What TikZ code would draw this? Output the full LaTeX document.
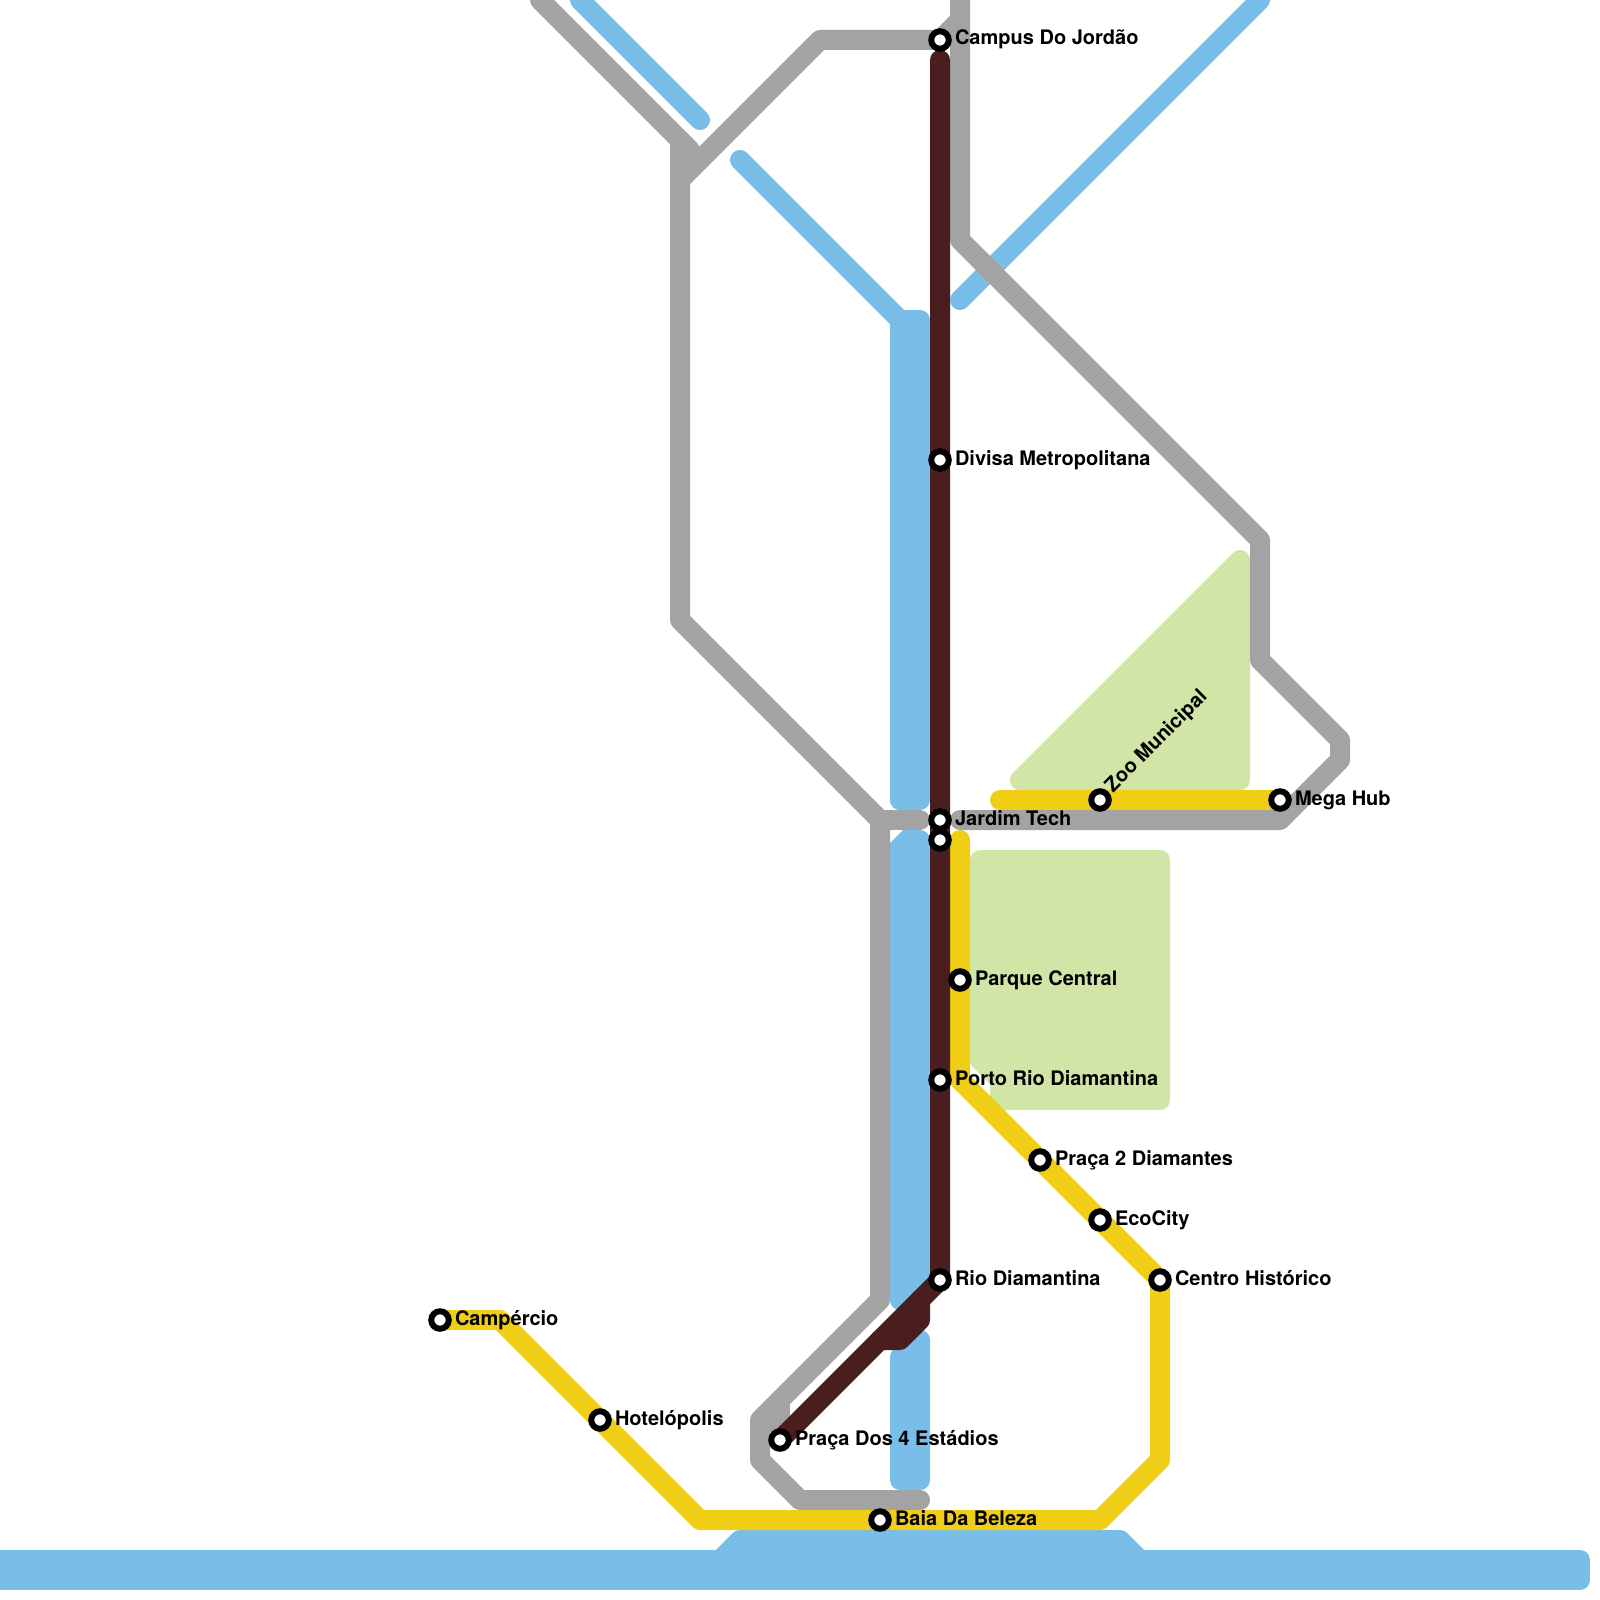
\documentclass[tikz,border=0pt]{standalone}
\usepackage{fontspec}
\setmainfont{TeX Gyre Heros}
\usetikzlibrary{backgrounds}
\definecolor{lineGray}{RGB}{163,163,163}
\definecolor{lineBlue}{RGB}{121,189,233}
\definecolor{lineDark}{RGB}{74,29,31}
\definecolor{lineYellow}{RGB}{240,206,21}
\definecolor{parkGreen}{RGB}{208,229,166}
\tikzset{
  x=1pt,y=-1pt,
  route/.style={line width=20pt,line cap=round,line join=round},
  grayroute/.style={route,draw=lineGray},
  blueroute/.style={route,draw=lineBlue},
  darkroute/.style={route,draw=lineDark},
  yellowroute/.style={route,draw=lineYellow},
  bluearea/.style={route,draw=lineBlue,fill=lineBlue},
  park/.style={route,draw=parkGreen,fill=parkGreen},
  stop/.style={circle,draw=black,fill=white,line width=6pt,minimum size=17.5pt,inner sep=0pt,outer sep=0pt},
  stoplabel/.style={anchor=base west,inner sep=0pt,outer sep=0pt,font=\fontsize{20}{24}\selectfont\bfseries,text=black}
}
\begin{document}
\begin{tikzpicture}
\useasboundingbox (0,0) rectangle (1600,1600);
% stations
\node[stop] (campus) at (940,40) {};
\node[stop] (divisa) at (940,460) {};
\node[stop] (jardim) at (940,820) {};
\node[stop] (jardimb) at (940,840) {};
\node[stop] (parque) at (960,980) {};
\node[stop] (porto) at (940,1080) {};
\node[stop] (praca2) at (1040,1160) {};
\node[stop] (eco) at (1100,1220) {};
\node[stop] (centro) at (1160,1280) {};
\node[stop] (rio) at (940,1280) {};
\node[stop] (praca4) at (780,1440) {};
\node[stop] (baia) at (880,1520) {};
\node[stop] (camp) at (440,1320) {};
\node[stop] (hotel) at (600,1420) {};
\node[stop] (zoo) at (1100,800) {};
\node[stop] (mega) at (1280,800) {};
% labels
\node[stoplabel] (lcampus) at (955,45) {Campus Do Jordão};
\node[stoplabel] (ldivisa) at (955,465) {Divisa Metropolitana};
\node[stoplabel] (ljardim) at (955,825) {Jardim Tech};
\node[stoplabel] (lparque) at (975,985) {Parque Central};
\node[stoplabel] (lporto) at (955,1085) {Porto Rio Diamantina};
\node[stoplabel] (lpraca2) at (1055,1165) {Praça 2 Diamantes};
\node[stoplabel] (leco) at (1115,1225) {EcoCity};
\node[stoplabel] (lcentro) at (1175,1285) {Centro Histórico};
\node[stoplabel] (lrio) at (955,1285) {Rio Diamantina};
\node[stoplabel] (lpraca4) at (795,1445) {Praça Dos 4 Estádios};
\node[stoplabel] (lbaia) at (895,1525) {Baia Da Beleza};
\node[stoplabel] (lcamp) at (455,1325) {Campércio};
\node[stoplabel] (lhotel) at (615,1425) {Hotelópolis};
\node[stoplabel] (lmega) at (1295,805) {Mega Hub};
\node[stoplabel,rotate=45] (lzoo) at (1113,793) {Zoo Municipal};
\begin{pgfonlayer}{background}
\begin{scope}
\clip (0,0) rectangle (1600,1600);
% parks
\draw[park] (980,860) -- (1160,860) -- (1160,1100) -- (1000,1100) -- (1000,1080) -- (980,1060) -- cycle;
\draw[park] (1240,560) -- (1240,780) -- (1020,780) -- cycle;
% water
\draw[blueroute] (580,0) -- (700,120);
\draw[blueroute] (740,160) -- (900,320) -- (900,800);
\draw[blueroute] (1260,0) -- (960,300);
\draw[bluearea] (900,320) -- (920,320) -- (920,800) -- (900,800) -- cycle;
\draw[bluearea] (900,860) -- (912,840) -- (920,840) -- (920,1280) -- (900,1300) -- cycle;
\fill[lineBlue] (890,843) -- (903,830) -- (912,830) -- (912,860) -- (890,860) -- cycle;
\draw[bluearea] (900,1357) -- (920,1340) -- (920,1480) -- (900,1480) -- cycle;
\draw[bluearea] (-20,1560) -- (1580,1560) -- (1580,1580) -- (-20,1580) -- cycle;
\draw[bluearea] (740,1540) -- (1120,1540) -- (1140,1560) -- (720,1560) -- cycle;
% gray lines
\draw[grayroute] (540,0) -- (690,150);
\draw[grayroute] (680,140) -- (680,620) -- (880,820) -- (880,1300) -- (760,1420) -- (760,1460) -- (800,1500) -- (920,1500);
\draw[grayroute] (880,820) -- (920,820);
\draw[grayroute] (780,1400) -- (780,1430);
\draw[grayroute] (680,180) -- (820,40) -- (campus.center) -- (960,20);
\draw[grayroute] (960,-20) -- (960,240) -- (1260,540) -- (1260,660) -- (1340,740) -- (1340,760) -- (1280,820) -- (960,820);
% yellow lines
\draw[yellowroute] (camp.center) -- (500,1320) -- (hotel.center) -- (700,1520) -- (baia.center) -- (1100,1520) -- (1160,1460) -- (centro.center) -- (eco.center) -- (praca2.center) -- (960,1080) -- (parque.center) -- (960,840);
\draw[yellowroute] (1000,800) -- (zoo.center) -- (mega.center);
% dark line
\draw[darkroute] (940,60) -- (divisa.center) -- (jardim.center) -- (jardimb.center) -- (porto.center) -- (rio.center) -- (praca4.center);
\draw[darkroute] (920,1300) -- (920,1320) -- (900,1340) -- (880,1340);
\end{scope}
\end{pgfonlayer}
\end{tikzpicture}
\end{document}
